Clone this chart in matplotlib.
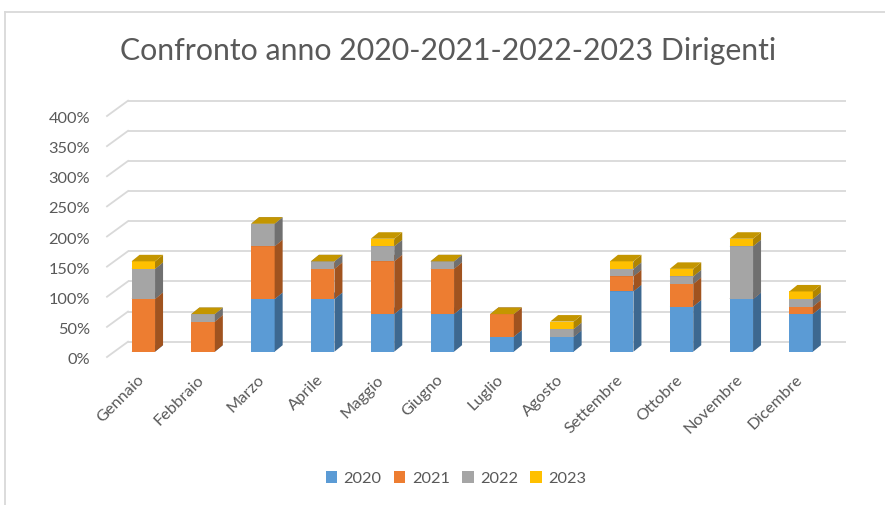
import matplotlib
matplotlib.use("Agg")
import matplotlib.pyplot as plt
from matplotlib.patches import Polygon, Patch
from matplotlib.lines import Line2D
import numpy as np

plt.rcParams["font.family"] = ["Lato", "DejaVu Sans"]

# ---- data (percent) ----
mesi = ["Gennaio", "Febbraio", "Marzo", "Aprile", "Maggio", "Giugno",
        "Luglio", "Agosto", "Settembre", "Ottobre", "Novembre", "Dicembre"]
anni = ["2020", "2021", "2022", "2023"]
anno2020 = [0, 0, 87.5, 87.5, 62.5, 62.5, 25, 25, 100, 75, 87.5, 62.5]
anno2021 = [87.5, 50, 87.5, 50, 87.5, 75, 37.5, 0, 25, 37.5, 0, 12.5]
anno2022 = [50, 12.5, 37.5, 12.5, 25, 12.5, 0, 12.5, 12.5, 12.5, 87.5, 12.5]
anno2023 = [12.5, 0, 0, 0, 12.5, 0, 0, 12.5, 12.5, 12.5, 12.5, 12.5]
y_ticks = [0, 50, 100, 150, 200, 250, 300, 350, 400]
y_labels = [f"{t}%" for t in y_ticks]
title = "Confronto anno 2020-2021-2022-2023 Dirigenti"

serie = [anno2020, anno2021, anno2022, anno2023]
front = ["#5B9BD5", "#ED7D31", "#A5A5A5", "#FFC000"]
side = ["#3D6890", "#A0531F", "#707070", "#B08500"]
top = ["#4E86BA", "#C7692A", "#8C8C8C", "#C49600"]

TXT = "#595959"
GRID = "#D9D9D9"
FS = 11.8

# ---- figure & pixel geometry ----
W, H = 885, 505
fig = plt.figure(figsize=(W / 100, H / 100), dpi=100)
fig.patch.set_facecolor("white")

X0, XSTEP = 143.3, 59.8     # pixel centre of first category, pixels per category
Y0, YSTEP = 351.7, 0.6025   # pixel row of 0% on the bar front plane, pixels per percent

ax = fig.add_axes([0, 0, 1, 1])
ax.set_xlim(-X0 / XSTEP, (W - X0) / XSTEP)
ax.set_ylim((Y0 - H) / YSTEP, Y0 / YSTEP)
ax.axis("off")


def dxu(p):
    return p / XSTEP


def dyu(p):
    return p / YSTEP


# back wall gridlines + floor diagonals
wall_x0, wall_x1 = dxu(128 - X0), dxu(846 - X0)
diag_x0 = dxu(107 - X0)
for t in y_ticks:
    ax.plot([wall_x0, wall_x1], [t + dyu(10), t + dyu(10)], color=GRID, lw=1.3,
            zorder=1, solid_capstyle="butt", clip_on=False)
    ax.plot([diag_x0, wall_x0], [t - dyu(5.3), t + dyu(10)], color=GRID, lw=1.3,
            zorder=1, clip_on=False)
for t, lab in zip(y_ticks, y_labels):
    ax.text(dxu(90 - X0), t - dyu(12.3), lab, ha="right", va="baseline",
            fontsize=FS, color=TXT, clip_on=False)

# 3-D style stacked bars
x = np.arange(len(mesi))
bw = dxu(23.5)
ddx, ddy = dxu(8), dyu(6.5)
bottom = np.zeros(len(mesi))
for vals, fc, sc, tc in zip(serie, front, side, top):
    vals = np.asarray(vals, dtype=float)
    ax.bar(x, vals, bw, bottom=bottom, color=fc, zorder=3, linewidth=0)
    for i in range(len(mesi)):
        b = bottom[i]
        t = b + vals[i]
        xr = x[i] + bw / 2
        ax.add_patch(Polygon([(xr, b), (xr + ddx, b + ddy), (xr + ddx, t + ddy), (xr, t)],
                             closed=True, facecolor=sc, edgecolor="none", zorder=3))
        ax.add_patch(Polygon([(xr - bw, t), (xr, t), (xr + ddx, t + ddy), (xr - bw + ddx, t + ddy)],
                             closed=True, facecolor=tc, edgecolor="none", zorder=3))
    bottom = bottom + vals

# category labels
for xi, m in zip(x, mesi):
    ax.text(xi - dxu(1.0), -dyu(26), m, rotation=45, rotation_mode="anchor",
            ha="right", va="center", fontsize=FS, color=TXT, clip_on=False)

# title
fig.text(448 / W, 1 - 60 / H, title, ha="center", va="baseline",
         fontsize=21.8, color=TXT)

# legend
handles = [Patch(facecolor=c, edgecolor="none") for c in front]
fig.legend(handles, anni, loc="center", bbox_to_anchor=(456 / W, 1 - 478.5 / H),
           ncol=4, frameon=False, fontsize=FS, labelcolor=TXT,
           handlelength=0.7, handleheight=0.7, handletextpad=0.4,
           columnspacing=0.75, borderpad=0)

# chart-area border
fig.add_artist(Line2D([4.5 / W, 4.5 / W], [0, 1 - 11.5 / H], color=GRID, lw=1.3))
fig.add_artist(Line2D([4.5 / W, 1], [1 - 11.5 / H, 1 - 11.5 / H], color=GRID, lw=1.3))

fig.savefig("out.png", dpi=100, facecolor="white")
